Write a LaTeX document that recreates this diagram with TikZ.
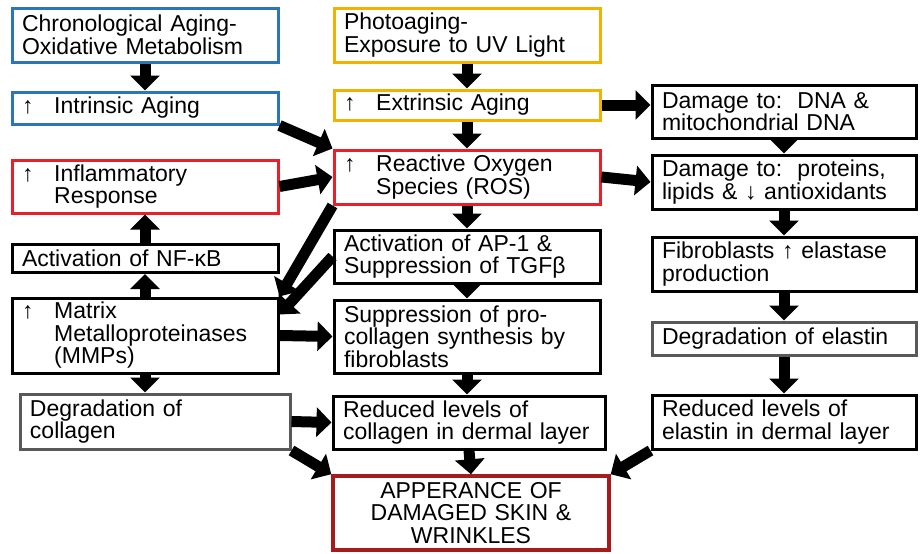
\documentclass[tikz,border=0pt]{standalone}
\usepackage{fontspec}
\setmainfont{Liberation Sans}
\usepackage{tikz}
\usetikzlibrary{arrows.meta}

\definecolor{agingblue}{HTML}{2E75B6}
\definecolor{uvgold}{HTML}{F0B400}
\definecolor{rosred}{HTML}{E8202A}
\definecolor{skinred}{HTML}{A61C1C}

\newcommand{\upmark}{\makebox[1.4em][l]{↑}}
\newcommand{\indt}{\hspace*{1.4em}}

\tikzset{
  box/.style={draw, line width=3pt, rectangle, minimum width=266pt,
    text width=246pt, align=left, inner xsep=7pt, inner ysep=2pt,
    font=\fontsize{23}{22.5}\selectfont},
  fat/.style={line width=11pt, -{Triangle[width=29pt,length=15pt]}}
}

\begin{document}
\begin{tikzpicture}[x=1pt,y=-1pt]
\useasboundingbox (0,0) rectangle (922,554);

% Left column
\node[box, draw=agingblue, minimum height=54pt] (chrono) at (145,35) {Chronological Aging-\\Oxidative Metabolism};
\node[box, draw=agingblue, minimum height=32pt] (intr) at (145,108) {\upmark Intrinsic Aging};
\node[box, draw=rosred, minimum height=53pt] (infl) at (145,186.5) {\upmark Inflammatory\\\indt Response};
\node[box, minimum height=28pt] (nfkb) at (145,258.5) {Activation of NF-κB};
\node[box, minimum height=75pt] (mmp) at (145,335.5) {\upmark Matrix\\\indt Metalloproteinases\\\indt (MMPs)};
\node[box, draw=black!65, minimum width=270pt, text width=250pt, minimum height=55pt] (degc) at (155,421.5) {Degradation of\\collagen};

% Middle column
\node[box, draw=uvgold, minimum height=54pt] (photo) at (467,35) {Photoaging-\\Exposure to UV Light};
\node[box, draw=uvgold, minimum height=30pt] (extr) at (467,105) {\upmark Extrinsic Aging};
\node[box, draw=rosred, minimum height=54pt] (ros) at (467,177) {\upmark Reactive Oxygen\\\indt Species (ROS)};
\node[box, minimum height=53pt] (ap1) at (467,256.5) {Activation of AP-1 \&\\Suppression of TGFβ};
\node[box, minimum height=73pt] (supp) at (467,336.5) {Suppression of pro-\\collagen synthesis by\\fibroblasts};
\node[box, minimum width=272pt, text width=252pt, minimum height=53pt] (redc) at (469,422.5) {Reduced levels of\\collagen in dermal layer};
\node[box, draw=skinred, line width=3.5pt, minimum width=276pt, text width=260pt, align=center, minimum height=74pt] (app) at (471,513) {APPERANCE OF\\DAMAGED SKIN \&\\WRINKLES};

% Right column
\node[box, minimum width=264pt, text width=244pt, minimum height=53pt] (dna) at (784,111.5) {Damage to:\ \ DNA \&\\mitochondrial DNA};
\node[box, minimum width=264pt, text width=244pt, minimum height=54pt] (prot) at (784,182) {Damage to:\ \ proteins,\\lipids \& ↓ antioxidants};
\node[box, minimum width=264pt, text width=244pt, minimum height=54pt] (fibro) at (784,264) {Fibroblasts ↑ elastase\\production};
\node[box, draw=black!65, minimum width=264pt, text width=244pt, minimum height=33pt] (dege) at (784,338.5) {Degradation of elastin};
\node[box, minimum width=264pt, text width=244pt, minimum height=54pt] (rede) at (784,422) {Reduced levels of\\elastin in dermal layer};

% Arrows
\draw[fat] (chrono.south) -- (intr.north);
\draw[fat] (intr.south east) -- (ros.north west);
\draw[fat] (infl.east) -- (ros.west);
\draw[fat] (nfkb.north) -- (infl.south);
\draw[fat] (mmp.north) -- (nfkb.south);
\draw[fat] (mmp.south) -- (mmp.south |- degc.north);
\draw[fat] (mmp.east) -- (supp.west);
\draw[fat] (degc.east) -- (redc.west);
\draw[fat] (degc.south east) -- (app.north west);

\draw[fat] (photo.south) -- (extr.north);
\draw[fat] (extr.south) -- (ros.north);
\draw[fat] (ros.south) -- (ap1.north);
\draw[fat] (ap1.south) -- (supp.north);
\draw[fat] (supp.south) -- (supp.south |- redc.north);
\draw[fat] (redc.south) -- (app.north);
\draw[fat] (ros.south west) -- (mmp.north east);
\draw[fat] (ap1.west) -- ([yshift=-18pt]mmp.north east);

\draw[fat] (extr.east) -- (extr.east -| dna.west);
\draw[fat] (ros.east) -- (prot.west);
\draw[fat] (dna.south) -- (prot.north);
\draw[fat] (prot.south) -- (fibro.north);
\draw[fat] (fibro.south) -- (dege.north);
\draw[fat] (dege.south) -- (rede.north);
\draw[fat] (rede.south west) -- (app.north east);
\end{tikzpicture}
\end{document}
